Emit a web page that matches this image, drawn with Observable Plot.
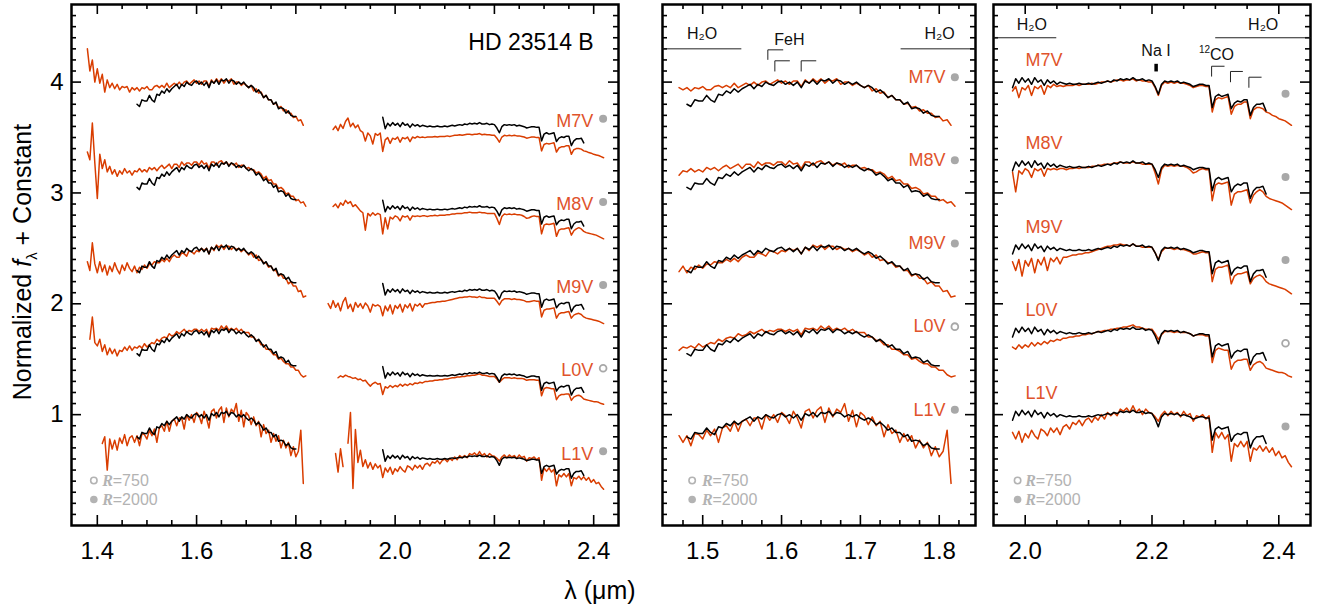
<!DOCTYPE html>
<html><head><meta charset="utf-8">
<script src="https://cdn.jsdelivr.net/npm/d3@7"></script>
<script src="https://cdn.jsdelivr.net/npm/@observablehq/plot@0.6"></script>
<style>
body{margin:0;background:#fff;}
#chart{position:relative;width:1320px;height:609px;overflow:hidden;background:#fff;font-family:"Liberation Sans",Arial,Helvetica,sans-serif;}
#chart svg{position:absolute;top:0;}
.lab{position:absolute;white-space:nowrap;font-size:25px;color:#000;}
</style></head><body><div id="chart"></div>
<script>
// ---------------- data ----------------
const STEP = 0.005; // µm sampling of all spectra
const types = ["M7V", "M8V", "M9V", "L0V", "L1V"];
const offsets = [3, 2.25, 1.5, 0.75, 0];
const resolution = [2000, 2000, 2000, 750, 2000];

// HD 23514 B, H band (normalized), starting at 1.48 µm
const hdHStart = 1.48;
const hdH = [
0.80,0.78,0.84,0.83,0.83,0.88,0.84,0.82,0.89,0.88,
0.92,0.90,0.94,0.91,0.94,0.96,0.98,0.94,0.98,0.96,
1.00,0.98,0.97,1.00,1.01,0.98,1.00,0.97,1.00,0.95,
1.01,0.99,1.02,0.98,1.02,1.01,1.03,0.99,1.02,1.01,
0.98,1.00,0.98,1.00,0.97,0.95,0.97,0.95,0.91,0.93,
0.90,0.86,0.88,0.84,0.84,0.80,0.82,0.76,0.77,0.76,
0.72,0.74,0.70,0.69,0.69];
// HD 23514 B, K band (normalized near 2.2 µm), starting at 1.975 µm
const hdKStart = 1.975;
const hdK = [
1.12,0.95,1.03,0.99,1.04,1.00,1.03,0.98,1.04,1.00,
1.02,0.97,1.02,0.99,1.01,0.98,1.00,0.99,0.98,0.99,
0.98,0.98,0.99,0.98,0.98,0.99,0.98,0.99,1.00,0.99,
1.00,1.01,1.00,1.02,1.01,1.03,1.02,1.03,1.02,1.04,
1.02,1.02,1.03,1.01,1.02,1.01,0.96,0.89,0.98,1.01,
1.00,1.01,1.00,1.01,0.99,1.00,0.99,0.98,0.96,0.97,
0.98,0.98,0.97,0.97,0.77,0.87,0.89,0.87,0.88,0.89,
0.76,0.81,0.83,0.82,0.84,0.84,0.70,0.77,0.80,0.80,
0.81,0.74];
const kLevelHD = 0.61; // K-band level of HD 23514 B relative to H peak

// Templates, H band
const tplHStart = [1.38, 1.38, 1.38, 1.385, 1.41];
const tplH_M7V = [
1.30,1.10,1.20,1.00,1.12,0.99,1.07,0.91,1.02,0.95,
0.99,0.94,0.98,0.93,0.96,0.95,0.96,0.91,0.95,0.93,
0.95,0.92,0.95,0.94,0.96,0.93,0.93,0.96,0.97,0.95,
0.97,0.95,0.99,0.95,0.97,0.99,0.97,1.00,0.97,1.00,
1.01,0.98,1.00,1.02,0.99,1.01,0.98,1.01,1.01,0.96,
1.02,0.99,1.03,1.00,1.03,0.99,1.02,1.01,1.03,0.98,
1.00,1.00,0.97,0.99,0.97,0.95,0.97,0.92,0.94,0.90,
0.91,0.86,0.88,0.84,0.84,0.80,0.81,0.77,0.78,0.74,
0.75,0.72,0.72,0.68,0.69,0.65,0.66,0.61];
const tplH_M8V = [
1.12,1.05,1.38,1.02,0.70,1.10,0.97,1.05,0.94,0.99,
0.92,0.96,0.90,0.95,0.92,0.97,0.93,0.95,0.91,0.95,
0.94,0.97,0.94,0.96,0.94,0.98,0.96,0.98,0.95,0.98,
1.00,0.97,0.99,1.01,0.97,1.01,1.01,0.98,1.03,1.00,
1.02,1.02,1.00,1.03,1.03,1.00,1.04,1.01,1.02,0.97,
1.03,1.03,1.00,1.03,1.04,1.01,1.03,1.00,1.02,1.00,
1.02,0.98,1.00,1.00,0.97,0.98,0.96,0.96,0.93,0.94,
0.92,0.88,0.90,0.86,0.87,0.83,0.83,0.79,0.80,0.78,
0.74,0.75,0.72,0.72,0.68,0.69,0.66,0.67,0.63];
const tplH_M9V = [
0.88,0.80,1.05,0.86,0.78,0.88,0.79,0.85,0.76,0.84,
0.79,0.87,0.81,0.77,0.85,0.80,0.87,0.82,0.79,0.84,
0.78,0.83,0.81,0.85,0.82,0.86,0.85,0.88,0.87,0.87,
0.90,0.88,0.91,0.88,0.92,0.94,0.92,0.92,0.96,0.95,
0.93,0.98,0.97,0.95,0.98,0.97,1.00,0.98,1.00,0.95,
1.01,0.98,1.03,1.01,1.03,0.99,1.02,1.02,0.99,1.01,
0.99,1.00,0.97,0.99,0.97,0.94,0.96,0.92,0.94,0.89,
0.90,0.87,0.87,0.83,0.84,0.80,0.80,0.75,0.77,0.73,
0.73,0.68,0.70,0.66,0.66,0.61,0.62,0.56,0.57];
const tplH_L0V = [
0.93,1.13,0.90,0.87,0.93,0.82,0.88,0.79,0.85,0.80,
0.84,0.78,0.83,0.82,0.86,0.83,0.87,0.83,0.86,0.85,
0.87,0.85,0.89,0.86,0.88,0.90,0.89,0.93,0.91,0.94,
0.95,0.94,0.98,0.96,0.97,1.00,0.98,1.00,1.02,0.99,
1.01,1.00,1.02,1.02,1.00,1.02,1.00,1.02,0.97,1.03,
1.02,1.03,1.01,1.05,1.02,1.05,1.01,1.03,1.01,1.03,
1.00,1.02,0.99,0.99,0.99,0.95,0.95,0.92,0.92,0.88,
0.88,0.84,0.84,0.82,0.79,0.79,0.75,0.76,0.73,0.71,
0.71,0.68,0.68,0.65,0.65,0.61,0.59,0.60];
const tplH_L1V = [
0.74,0.80,0.50,0.78,0.69,0.77,0.68,0.79,0.74,0.82,
0.72,0.79,0.81,0.75,0.81,0.72,0.83,0.82,0.78,0.86,
0.81,0.87,0.75,0.88,0.90,0.85,0.94,0.85,0.94,0.96,
0.90,0.97,0.97,0.87,1.00,0.95,1.00,0.93,1.02,0.99,
0.92,1.03,0.97,0.88,1.03,1.05,0.97,1.04,1.07,0.93,
1.06,0.98,1.05,1.02,1.10,0.94,1.04,0.89,1.02,0.99,
0.91,0.98,0.90,0.94,0.80,0.91,0.83,0.86,0.75,0.83,
0.76,0.81,0.70,0.77,0.70,0.75,0.63,0.71,0.62,0.67,
0.86,0.38];
const tplH = [tplH_M7V, tplH_M8V, tplH_M9V, tplH_L0V, tplH_L1V];

// Templates, K band (normalized near 2.2 µm)
const tplKStart = [1.875, 1.875, 1.865, 1.885, 1.88];
const tplK_M7V = [
1.10,1.16,1.08,1.19,1.12,1.24,1.30,1.15,1.21,1.13,
1.18,1.08,1.05,0.90,1.04,0.99,0.85,1.03,1.00,1.04,
0.72,0.92,0.96,0.86,0.95,0.93,0.97,0.88,0.96,0.94,
0.97,0.89,0.97,0.95,0.98,0.96,0.97,0.96,0.97,0.97,
0.97,0.98,0.97,0.98,0.98,0.98,0.99,0.98,0.99,1.00,
1.00,1.01,1.00,1.01,1.02,1.02,1.01,1.02,1.02,1.03,
1.01,1.02,1.01,1.01,1.00,1.00,0.95,0.88,0.97,1.00,
0.99,1.00,0.99,1.00,0.99,0.99,0.98,0.97,0.95,0.96,
0.97,0.97,0.96,0.96,0.73,0.84,0.86,0.85,0.86,0.87,
0.71,0.78,0.80,0.80,0.82,0.82,0.67,0.75,0.77,0.77,
0.76,0.73,0.72,0.70,0.69,0.67,0.66,0.65,0.63,0.61];
const tplK_M8V = [
1.12,1.16,1.10,1.18,1.14,1.22,1.17,1.20,1.12,1.15,
1.10,1.05,1.02,0.74,1.01,0.97,1.02,0.98,1.01,0.99,
0.68,0.94,0.76,0.95,0.92,0.97,0.95,0.89,0.97,0.95,
0.97,0.90,0.97,0.96,0.97,0.96,0.97,0.97,0.96,0.97,
0.97,0.98,0.97,0.98,0.98,0.98,0.99,0.99,1.00,1.00,
1.01,1.01,1.01,1.02,1.02,1.03,1.02,1.02,1.02,1.03,
1.02,1.02,1.01,1.01,1.01,1.01,0.93,0.83,0.96,1.00,
0.99,1.00,0.99,1.00,0.99,0.99,0.98,0.96,0.93,0.94,
0.96,0.97,0.96,0.96,0.68,0.82,0.84,0.83,0.84,0.85,
0.64,0.74,0.76,0.76,0.77,0.78,0.66,0.73,0.76,0.78,
0.76,0.72,0.70,0.69,0.68,0.67,0.66,0.64,0.62,0.60];
const tplK_M9V = [
0.92,0.84,0.97,0.86,0.93,0.80,0.95,1.02,0.84,0.91,
0.79,0.94,0.86,0.92,0.84,0.93,0.88,0.78,0.91,0.88,
0.90,0.87,0.72,0.88,0.80,0.90,0.75,0.89,0.84,0.91,
0.78,0.90,0.85,0.92,0.80,0.91,0.88,0.92,0.86,0.92,
0.92,0.93,0.94,0.94,0.95,0.95,0.96,0.96,0.97,0.98,
0.99,1.00,1.01,1.02,1.02,1.03,1.03,1.04,1.03,1.03,
1.02,1.04,1.02,1.02,1.01,1.01,1.01,1.01,0.96,0.90,
0.97,1.00,1.00,1.00,0.99,1.00,0.99,0.99,0.98,0.97,
0.95,0.95,0.96,0.97,0.96,0.96,0.70,0.81,0.83,0.83,
0.84,0.85,0.68,0.75,0.77,0.77,0.78,0.79,0.68,0.73,
0.75,0.76,0.74,0.70,0.68,0.67,0.66,0.65,0.64,0.63,
0.61,0.59];
const tplK_L0V = [
1.00,1.03,1.01,1.04,1.02,1.01,0.99,1.00,0.97,0.98,
0.95,0.96,0.91,0.87,0.91,0.93,0.90,0.91,0.74,0.86,
0.84,0.88,0.85,0.88,0.86,0.90,0.87,0.90,0.88,0.91,
0.89,0.92,0.91,0.93,0.92,0.94,0.94,0.95,0.95,0.96,
0.96,0.97,0.97,0.98,0.98,0.99,1.00,1.00,1.01,1.01,
1.02,1.02,1.03,1.03,1.04,1.04,1.05,1.06,1.04,1.04,
1.03,1.02,1.02,1.02,0.98,0.93,0.97,1.00,1.00,1.00,
0.99,1.00,0.99,0.99,0.99,0.98,0.96,0.97,0.97,0.97,
0.96,0.96,0.72,0.83,0.85,0.84,0.83,0.83,0.66,0.72,
0.74,0.74,0.75,0.75,0.65,0.70,0.72,0.73,0.71,0.67,
0.66,0.65,0.64,0.63,0.63,0.62,0.60,0.59];
const tplK_L1V = [
1.05,0.78,1.12,0.86,null,1.20,1.65,0.54,1.40,0.92,
1.10,0.86,0.96,0.84,0.92,0.82,0.90,0.84,0.88,0.70,
0.84,0.78,0.85,0.75,0.83,0.79,0.86,0.81,0.78,0.87,
0.85,0.81,0.88,0.84,0.88,0.82,0.89,0.91,0.87,0.93,
0.91,0.95,0.90,0.95,0.97,0.93,0.98,0.95,1.00,0.96,
1.02,0.99,1.02,0.99,1.05,1.03,1.06,1.02,1.08,1.02,
1.05,1.00,1.05,1.02,1.01,0.98,0.94,1.00,1.03,0.99,
1.03,1.00,1.02,0.98,1.03,0.99,1.01,0.94,0.99,0.98,
1.00,0.96,0.99,0.66,0.84,0.79,0.84,0.78,0.82,0.58,
0.74,0.71,0.76,0.71,0.76,0.58,0.70,0.68,0.72,0.67,
0.71,0.66,0.70,0.63,0.67,0.61,0.63,0.57,0.53];
const tplK = [tplK_M7V, tplK_M8V, tplK_M9V, tplK_L0V, tplK_L1V];
const kLevelTpl = [0.52, 0.56, 0.545, 0.583, 0.618];

// annotation positions (data units)
const leftLabel = {x: 2.399, dy: 0.647, dotX: 2.419, dotDy: 0.669, anchor: "end"};
const midLabel = {x: 1.808, dy: 1.044, dotX: 1.8198, dotDy: 1.044, anchor: "end"};
const rightLabel = {x: 2.0005, dy: 1.195, dotX: 2.4106, dotDy: 0.894, anchor: "start"};
const legendY = [0.406, 0.235];
const legendLeft = {cx: 1.393, tx: 1.41};
const legendMid = {cx: 1.4866, tx: 1.499};
const legendRight = {cx: 1.988, tx: 2.0};
const legendText = ["=750", "=2000"];

const midLines = [
  {x1: 1.449, y1: 4.300, x2: 1.549, y2: 4.300}, {x1: 1.751, y1: 4.300, x2: 1.846, y2: 4.300},
  {x1: 1.5826, y1: 4.201, x2: 1.5826, y2: 4.291}, {x1: 1.5826, y1: 4.291, x2: 1.6021, y2: 4.291},
  {x1: 1.5915, y1: 4.096, x2: 1.5915, y2: 4.192}, {x1: 1.5915, y1: 4.192, x2: 1.6105, y2: 4.192},
  {x1: 1.6249, y1: 4.096, x2: 1.6249, y2: 4.192}, {x1: 1.6249, y1: 4.192, x2: 1.644, y2: 4.192}];
const midTexts = [{x: 1.4992, y: 4.436, t: "H₂O"}, {x: 1.8005, y: 4.436, t: "H₂O"}, {x: 1.610, y: 4.384, t: "FeH"}];
const rightLines = [
  {x1: 1.95, y1: 4.400, x2: 2.049, y2: 4.400}, {x1: 2.2997, y1: 4.400, x2: 2.45, y2: 4.400},
  {x1: 2.294, y1: 4.050, x2: 2.294, y2: 4.143}, {x1: 2.294, y1: 4.143, x2: 2.3144, y2: 4.143},
  {x1: 2.3238, y1: 3.999, x2: 2.3238, y2: 4.096}, {x1: 2.3238, y1: 4.096, x2: 2.3433, y2: 4.096},
  {x1: 2.3528, y1: 3.949, x2: 2.3528, y2: 4.044}, {x1: 2.3528, y1: 4.044, x2: 2.3728, y2: 4.044}];
const rightTexts = [{x: 2.0104, y: 4.520, t: "H₂O"}, {x: 2.3754, y: 4.520, t: "H₂O"}, {x: 2.2063, y: 4.285, t: "Na I"}];
const naMarker = [{x1: 2.2065, y1: 4.096, x2: 2.2065, y2: 4.165}];

// ---------------- drawing ----------------
const ORANGE = "#d93d00", LABEL = "#e0532b", GRAY = "#a8a8a8", LEGEND = "#b3b3b3";
const FONT = "Liberation Sans, Arial, Helvetica, sans-serif";
const H = 609, MT = 4, MB = 84, INNER_H = H - MT - MB;
const Y_DOMAIN = [0, 4.7];

function pts(start, vals) {
  return vals.map((v, i) => ({w: Math.round((start + i * STEP) * 1000) / 1000, v}));
}

function buildLines(panel) {
  const orange = [], black = [];
  types.forEach((t, r) => {
    const off = offsets[r];
    if (panel !== "right") {
      pts(tplHStart[r], tplH[r]).forEach(p => {
        if (panel === "left" || p.w >= 1.47) orange.push({key: t + "H", w: p.w, y: p.v == null ? NaN : p.v + off});
      });
      pts(hdHStart, hdH).forEach(p => black.push({key: t + "H", w: p.w, y: p.v + off}));
    }
    if (panel !== "mid") {
      const ko = panel === "left" ? kLevelTpl[r] : 1;
      const kb = panel === "left" ? kLevelHD : 1;
      pts(tplKStart[r], tplK[r]).forEach(p => {
        if (panel === "left" || p.w >= 1.98) orange.push({key: t + "K", w: p.w, y: p.v == null ? NaN : p.v * ko + off});
      });
      pts(hdKStart, hdK).forEach(p => {
        if (panel === "left" || p.w >= 1.98) black.push({key: t + "K", w: p.w, y: p.v * kb + off});
      });
    }
  });
  return {orange, black};
}

function tickMarks(xDomain, xMaj, xStep, innerW) {
  const M = 10, m = 5, sw = 1.6;
  const xMin = d3.range(Math.round(xDomain[0] / xStep), Math.round(xDomain[1] / xStep) + 1)
    .map(i => +(i * xStep).toFixed(4))
    .filter(v => v > xDomain[0] + 0.003 && v < xDomain[1] - 0.003 && !xMaj.some(M2 => Math.abs(M2 - v) < 1e-6));
  const yMaj = [1, 2, 3, 4];
  const yMin = d3.range(1, 47).map(i => +(i / 10).toFixed(1)).filter(v => v % 1 !== 0);
  return [
    Plot.tickX(xMaj, {x: d => d, insetTop: INNER_H - M, strokeWidth: sw}),
    Plot.tickX(xMaj, {x: d => d, insetBottom: INNER_H - M, strokeWidth: sw}),
    Plot.tickX(xMin, {x: d => d, insetTop: INNER_H - m, strokeWidth: sw}),
    Plot.tickX(xMin, {x: d => d, insetBottom: INNER_H - m, strokeWidth: sw}),
    Plot.tickY(yMaj, {y: d => d, insetRight: innerW - M, strokeWidth: sw}),
    Plot.tickY(yMaj, {y: d => d, insetLeft: innerW - M, strokeWidth: sw}),
    Plot.tickY(yMin, {y: d => d, insetRight: innerW - m, strokeWidth: sw}),
    Plot.tickY(yMin, {y: d => d, insetLeft: innerW - m, strokeWidth: sw})
  ];
}

function rowMarks(L) {
  const idx = [0, 1, 2, 3, 4];
  return [
    Plot.text(idx, {x: () => L.x, y: i => offsets[i] + L.dy, text: i => types[i], textAnchor: L.anchor, fill: LABEL, fontSize: 18, fontFamily: FONT}),
    Plot.dot(idx.filter(i => resolution[i] === 2000), {x: () => L.dotX, y: i => offsets[i] + L.dotDy, r: 4, fill: GRAY, stroke: "none"}),
    Plot.dot(idx.filter(i => resolution[i] === 750), {x: () => L.dotX, y: i => offsets[i] + L.dotDy, r: 3.4, fill: "white", stroke: GRAY, strokeWidth: 1.8})
  ];
}

function legendMarks(Lg) {
  return [
    Plot.dot([0], {x: () => Lg.cx, y: () => legendY[0], r: 3.2, fill: "white", stroke: LEGEND, strokeWidth: 1.6}),
    Plot.dot([1], {x: () => Lg.cx, y: () => legendY[1], r: 3.8, fill: LEGEND, stroke: "none"}),
    Plot.text([0, 1], {x: () => Lg.tx, y: i => legendY[i], text: () => "R", textAnchor: "start", fill: LEGEND, fontSize: 16, fontFamily: "Liberation Serif, Times New Roman, serif", fontWeight: "bold", fontStyle: "italic"}),
    Plot.text([0, 1], {x: () => Lg.tx, y: i => legendY[i], text: i => legendText[i], dx: 10.5, textAnchor: "start", fill: LEGEND, fontSize: 16, fontFamily: FONT})
  ];
}

function panel({left, width, marginLeft, marginRight, xDomain, xMaj, xStep, kind, extra, yLabels}) {
  const innerW = width - marginLeft - marginRight;
  const {orange, black} = buildLines(kind);
  const marks = [
    Plot.line(orange, {x: "w", y: "y", z: "key", stroke: ORANGE, strokeWidth: 1.5}),
    Plot.line(black, {x: "w", y: "y", z: "key", stroke: "black", strokeWidth: 1.5}),
    ...tickMarks(xDomain, xMaj, xStep, innerW),
    Plot.frame({stroke: "black", strokeWidth: 2.5}),
    Plot.axisX({ticks: xMaj, tickSize: 0, tickPadding: 16, fontSize: 24, fontFamily: FONT, tickFormat: d3.format(".1f"), label: null})
  ];
  if (yLabels) marks.push(Plot.axisY({ticks: [1, 2, 3, 4], tickSize: 0, tickPadding: 8, fontSize: 24, fontFamily: FONT, tickFormat: d => String(d), label: null}));
  marks.push(...extra);
  const svg = Plot.plot({
    width, height: H, marginTop: MT, marginBottom: MB, marginLeft, marginRight,
    x: {domain: xDomain},
    y: {domain: Y_DOMAIN, axis: yLabels ? undefined : null},
    style: {background: "transparent", fontFamily: FONT, overflow: "visible"},
    marks
  });
  svg.style.left = left + "px";
  return svg;
}

const chart = document.getElementById("chart");

chart.appendChild(panel({
  left: 0, width: 630, marginLeft: 71, marginRight: 12,
  xDomain: [1.348, 2.45], xMaj: [1.4, 1.6, 1.8, 2.0, 2.2, 2.4], xStep: 0.05, kind: "left", yLabels: true,
  extra: [
    Plot.text([{x: 2.4, y: 4.357, t: "HD 23514 B"}], {x: "x", y: "y", text: "t", textAnchor: "end", fontSize: 23, fill: "black"}),
    ...rowMarks(leftLabel), ...legendMarks(legendLeft)
  ]
}));

chart.appendChild(panel({
  left: 640, width: 345, marginLeft: 22, marginRight: 10,
  xDomain: [1.449, 1.846], xMaj: [1.5, 1.6, 1.7, 1.8], xStep: 0.025, kind: "mid", yLabels: false,
  extra: [
    Plot.link(midLines, {x1: "x1", y1: "y1", x2: "x2", y2: "y2", stroke: "#222", strokeWidth: 1}),
    Plot.text(midTexts, {x: "x", y: "y", text: "t", fontSize: 16, fill: "#111"}),
    ...rowMarks(midLabel), ...legendMarks(legendMid)
  ]
}));

chart.appendChild(panel({
  left: 985, width: 335, marginLeft: 8, marginRight: 10,
  xDomain: [1.95, 2.45], xMaj: [2.0, 2.2, 2.4], xStep: 0.05, kind: "right", yLabels: false,
  extra: [
    Plot.link(rightLines, {x1: "x1", y1: "y1", x2: "x2", y2: "y2", stroke: "#222", strokeWidth: 1}),
    Plot.link(naMarker, {x1: "x1", y1: "y1", x2: "x2", y2: "y2", stroke: "black", strokeWidth: 3.5}),
    Plot.text(rightTexts, {x: "x", y: "y", text: "t", fontSize: 16, fill: "#111"}),
    Plot.text([{x: 2.2915, y: 4.294, t: "12"}], {x: "x", y: "y", text: "t", textAnchor: "end", fontSize: 10, fill: "#111"}),
    Plot.text([{x: 2.2915, y: 4.246, t: "CO"}], {x: "x", y: "y", text: "t", textAnchor: "start", fontSize: 16, fill: "#111"}),
    ...rowMarks(rightLabel), ...legendMarks(legendRight)
  ]
}));

// axis titles
const xl = document.createElement("div");
xl.className = "lab";
xl.style.cssText += "left:600px;top:590px;transform:translate(-50%,-50%);";
xl.innerHTML = "λ (μm)";
chart.appendChild(xl);
const yl = document.createElement("div");
yl.className = "lab";
yl.style.cssText += "left:24px;top:262px;transform:translate(-50%,-50%) rotate(-90deg);";
yl.innerHTML = "Normalized <i>f</i><sub style='font-size:15px'>λ</sub> + Constant";
chart.appendChild(yl);
</script></body></html>
